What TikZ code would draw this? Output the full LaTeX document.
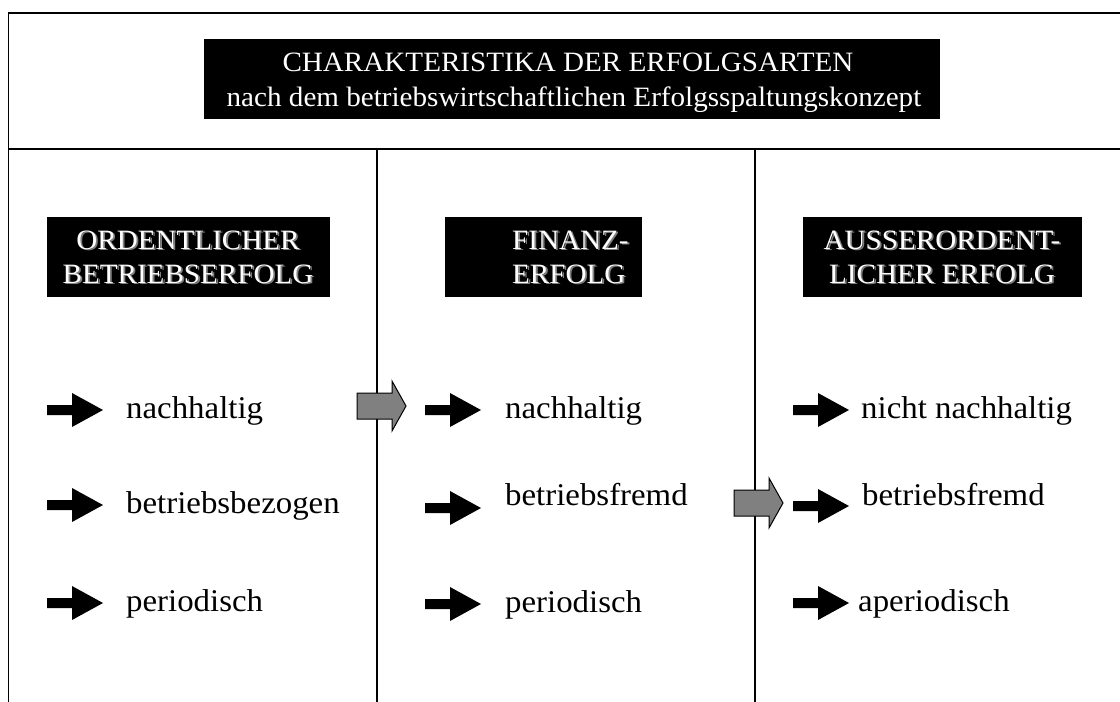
\documentclass[tikz,border=0pt]{standalone}
\usepackage{fontspec}
\setmainfont{Liberation Serif}[FakeStretch=1.04]
\begin{document}
\newcommand\headfont{\fontsize{28}{35}\selectfont}
\newcommand\colfont{\fontsize{28}{34}\selectfont}
\newcommand\itemfont{\fontsize{31.6}{34}\selectfont}
% solid black pointer: #1 left end x, #2 centre y
\newcommand\pointer[2]{%
  \fill[black] (#1,#2-5) -- ++(25,0) -- ++(0,-12) -- ++(31,17) -- ++(-31,17)
    -- ++(0,-12) -- ++(-25,0) -- cycle;}
% grey transition arrow across a column rule: #1 left end x, #2 centre y
\newcommand\passarrow[2]{%
  \draw[passstyle] (#1,#2-13) -- ++(35,0) -- ++(0,-12) -- ++(14,25) -- ++(-14,25)
    -- ++(0,-12) -- ++(-35,0) -- cycle;}
\begin{tikzpicture}[x=1pt,y=-1pt,
  frame/.style={line width=1.8pt},
  rule/.style={line width=1.4pt},
  darkbox/.style={fill=black},
  titletext/.style={anchor=base, text=white, inner sep=0, font=\headfont},
  headtext/.style={inner sep=0, text=white, font=\colfont},
  headshadow/.style={inner sep=0, text=black!50, font=\colfont},
  itemtext/.style={anchor=base west, inner sep=0, font=\itemfont},
  passstyle/.style={fill=black!50, draw=black, line width=1pt, line join=miter}]
\useasboundingbox (0,0) rectangle (1120,702);

% frame and column rules
\coordinate (tl) at (8.5,13);
\coordinate (tr) at (1120,13);
\coordinate (bl) at (8.5,702);
\coordinate (ml) at (8.5,149);
\coordinate (mr) at (1120,149);
\coordinate (c1t) at (377,149);
\coordinate (c1b) at (377,702);
\coordinate (c2t) at (755,149);
\coordinate (c2b) at (755,702);
\draw[frame] (tr) -- (tl) -- (bl);
\draw[frame] (ml) -- (mr);
\draw[rule] (c1t) -- (c1b);
\draw[rule] (c2t) -- (c2b);

% heading
\fill[darkbox] (204,39) rectangle (940,119);
\node[titletext] (title1) at (568,71) {CHARAKTERISTIKA DER ERFOLGSARTEN};
\node[titletext] (title2) at (574,106) {nach dem betriebswirtschaftlichen Erfolgsspaltungskonzept};

% column headings
\fill[darkbox] (47,217) rectangle (330,297);
\fill[darkbox] (445,217) rectangle (642,297);
\fill[darkbox] (803,217) rectangle (1082,297);

\node[headshadow, anchor=base] (o1s) at (189.8,250.8) {ORDENTLICHER};
\node[headtext, anchor=base] (o1) at (188,249) {ORDENTLICHER};
\node[headshadow, anchor=base] (o2s) at (189.8,284.8) {BETRIEBSERFOLG};
\node[headtext, anchor=base] (o2) at (188,283) {BETRIEBSERFOLG};

\node[headshadow, anchor=base west] (f1s) at (513.8,250.8) {FINANZ-};
\node[headtext, anchor=base west] (f1) at (512,249) {FINANZ-};
\node[headshadow, anchor=base west] (f2s) at (513.8,284.8) {ERFOLG};
\node[headtext, anchor=base west] (f2) at (512,283) {ERFOLG};

\node[headshadow, anchor=base] (a1s) at (943.8,250.8) {AUSSERORDENT-};
\node[headtext, anchor=base] (a1) at (942,249) {AUSSERORDENT-};
\node[headshadow, anchor=base] (a2s) at (943.8,284.8) {LICHER ERFOLG};
\node[headtext, anchor=base] (a2) at (942,283) {LICHER ERFOLG};

% first column
\pointer{47}{410}
\node[itemtext] (o-nach) at (126,418) {nachhaltig};
\pointer{47}{505}
\node[itemtext] (o-bez) at (126,513) {betriebsbezogen};
\pointer{47}{603}
\node[itemtext] (o-per) at (126,611) {periodisch};

% second column
\pointer{425}{410}
\node[itemtext] (f-nach) at (505,418) {nachhaltig};
\pointer{425}{508}
\node[itemtext] (f-fremd) at (505,505) {betriebsfremd};
\pointer{425}{604}
\node[itemtext] (f-per) at (505,612) {periodisch};

% third column
\pointer{793}{410}
\node[itemtext] (a-nach) at (861,418) {nicht nachhaltig};
\pointer{793}{506}
\node[itemtext] (a-fremd) at (862,505) {betriebsfremd};
\pointer{793}{603}
\node[itemtext] (a-per) at (858,611) {aperiodisch};

% transitions between columns
\passarrow{357}{406}
\passarrow{734}{503}
\end{tikzpicture}
\end{document}
